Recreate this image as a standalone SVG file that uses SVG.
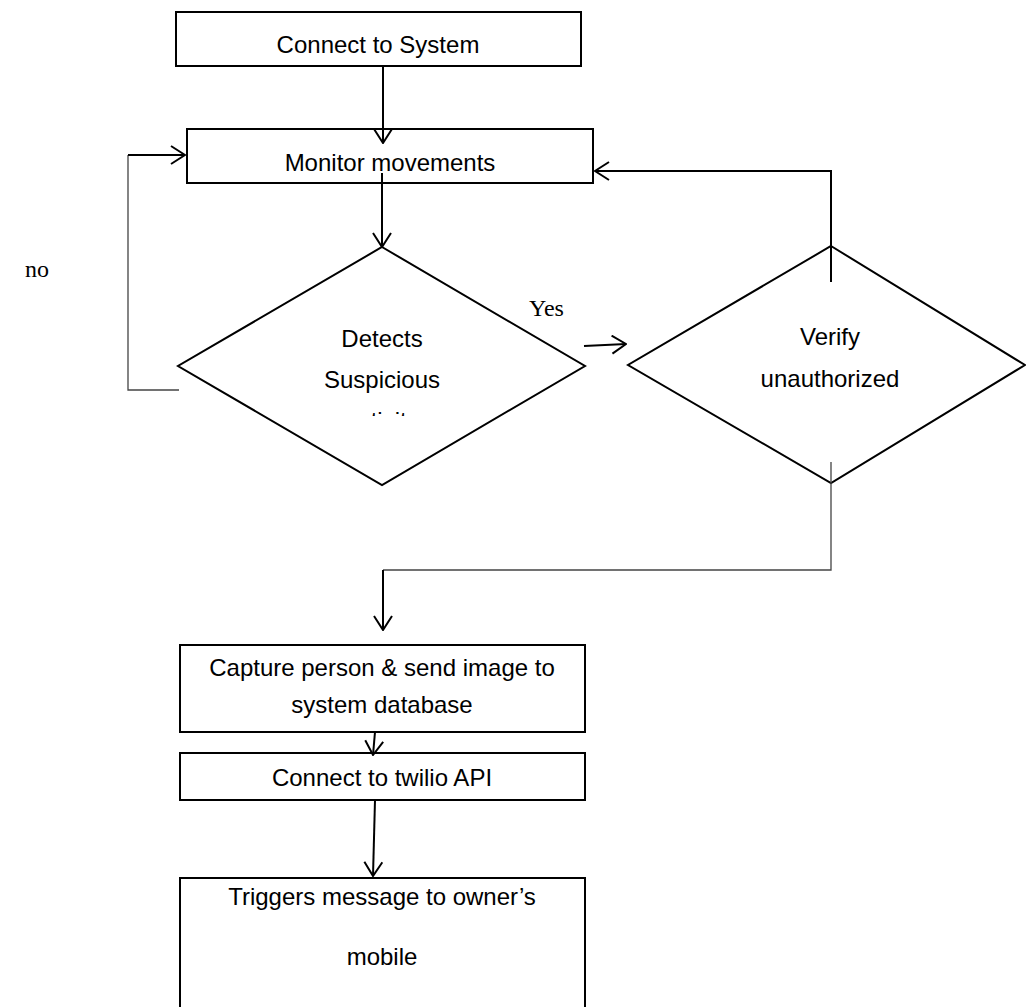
<svg xmlns="http://www.w3.org/2000/svg" width="1026" height="1007" viewBox="0 0 1026 1007">
<style>
.box{fill:#fff;stroke:#000;stroke-width:2}
.dia{fill:#fff;stroke:#000;stroke-width:2}
.t{font-family:"Liberation Sans",Arial,sans-serif;font-size:24px;fill:#000;text-anchor:middle}
.s{font-family:"Liberation Serif","Times New Roman",serif;font-size:24px;fill:#000}
.c{fill:none;stroke:#000;stroke-width:2}
.thin{fill:none;stroke:#444;stroke-width:1.3}
</style>
<defs>
<marker id="ah" viewBox="0 0 16 20" refX="15" refY="10" markerWidth="16" markerHeight="20" markerUnits="userSpaceOnUse" orient="auto">
<path d="M1,1 L15,10 L1,19" fill="none" stroke="#000" stroke-width="2"/>
</marker>
<clipPath id="cl"><rect x="300" y="395" width="160" height="21"/></clipPath>
</defs>
<rect width="1026" height="1007" fill="#fff"/>
<g id="n1"><rect class="box" x="176" y="12" width="405" height="54"/><text class="t" x="378" y="53">Connect to System</text></g>
<g id="n2"><rect class="box" x="187" y="129" width="406" height="54"/><text class="t" x="390" y="171">Monitor movements</text></g>
<g id="n3"><polygon class="dia" points="382,247 585,366 382,485 178,366"/><text class="t" x="382" y="347">Detects</text><text class="t" x="382" y="388">Suspicious</text><text class="t" x="382" y="429" clip-path="url(#cl)">activity</text></g>
<g id="n4"><polygon class="dia" points="831,246 1025,365 831,483 628,365"/><text class="t" x="830" y="345">Verify</text><text class="t" x="830" y="387">unauthorized</text></g>
<g id="n5"><rect class="box" x="180" y="645" width="405" height="87"/><text class="t" x="382" y="676">Capture person &amp; send image to</text><text class="t" x="382" y="713">system database</text></g>
<g id="n6"><rect class="box" x="180" y="753" width="405" height="47"/><text class="t" x="382" y="786">Connect to twilio API</text></g>
<g id="n7"><path class="box" d="M180,1010 L180,878 L585,878 L585,1010"/><text class="t" x="382" y="905">Triggers message to owner’s</text><text class="t" x="382" y="965">mobile</text></g>
<g id="labels"><text class="s" x="25" y="277">no</text><text class="s" x="529" y="316">Yes</text></g>
<g id="connectors">
<path class="c" d="M383,66 L383,143" marker-end="url(#ah)"/>
<path class="c" d="M382,173 L382,247" marker-end="url(#ah)"/>
<path class="thin" d="M179,390 L128,390 L128,155"/>
<path class="c" d="M128,155 L185,155" marker-end="url(#ah)"/>
<path class="c" d="M584,346 L626,344" marker-end="url(#ah)"/>
<path class="c" d="M831,282 L831,171 L595,171" marker-end="url(#ah)"/>
<path class="thin" d="M831,462 L831,570 L383,570"/>
<path class="c" d="M383,570 L383,630" marker-end="url(#ah)"/>
<path class="c" d="M375,732 L373,755" marker-end="url(#ah)"/>
<path class="c" d="M375,800 L373,876" marker-end="url(#ah)"/>
</g>
</svg>
